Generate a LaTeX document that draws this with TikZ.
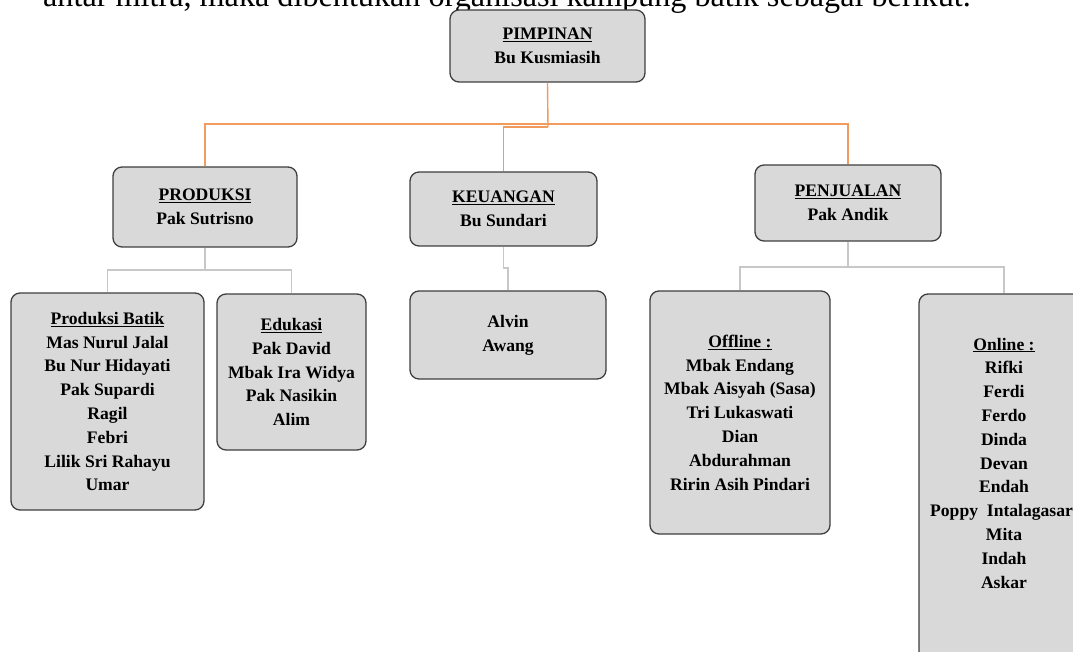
\documentclass[tikz,border=0pt]{standalone}
\usepackage{fontspec}
\setmainfont{Liberation Serif}
\definecolor{boxfill}{HTML}{D9D9D9}
\definecolor{boxline}{HTML}{3F3F3F}
\definecolor{orangeline}{HTML}{F29B5E}
\definecolor{grayline}{HTML}{C8C8C8}
\begin{document}
\begin{tikzpicture}[x=1pt,y=-1pt,
  box/.style={draw=boxline, fill=boxfill, line width=1.3pt, rounded corners=9pt,
    inner sep=0pt, align=center, font=\bfseries\fontsize{17.6}{23.8}\selectfont},
  txt/.style={inner sep=0pt, align=center, font=\bfseries\fontsize{17.6}{23.8}\selectfont},
  oline/.style={draw=orangeline, line width=1.4pt},
  gline/.style={draw=grayline, line width=1.6pt}]
\useasboundingbox (0,0) rectangle (1073,652);
\clip (0,0) rectangle (1073,652);

\node[anchor=base west, inner sep=0pt, font=\fontsize{32.2}{34}\selectfont] (intro) at (43,7)
  {antar mitra, maka dibentukan organisasi kampung batik sebagai berikut.};

% boxes
\node[box, minimum width=195pt, minimum height=72pt] (pim) at (547.5,46) {\underline{PIMPINAN}\\Bu Kusmiasih};
\node[box, minimum width=184pt, minimum height=80pt] (prod) at (205,207) {\underline{PRODUKSI}\\Pak Sutrisno};
\node[box, minimum width=187pt, minimum height=74pt] (keu) at (503.5,209) {\underline{KEUANGAN}\\Bu Sundari};
\node[box, minimum width=186pt, minimum height=76pt] (penj) at (848,203) {\underline{PENJUALAN}\\Pak Andik};

\node[box, minimum width=193pt, minimum height=217pt] (batik) at (107.5,401.5)
  {\underline{Produksi Batik}\\Mas Nurul Jalal\\Bu Nur Hidayati\\Pak Supardi\\Ragil\\Febri\\Lilik Sri Rahayu\\Umar};
\node[box, minimum width=149pt, minimum height=156pt] (edu) at (291.5,372)
  {\underline{Edukasi}\\Pak David\\Mbak Ira Widya\\Pak Nasikin\\Alim};
\node[box, minimum width=196pt, minimum height=88pt] (alvin) at (508,335) {Alvin\\Awang};
\node[box, minimum width=180pt, minimum height=243pt] (off) at (740,412.5)
  {\underline{Offline :}\\Mbak Endang\\Mbak Aisyah (Sasa)\\Tri Lukaswati\\Dian\\Abdurahman\\Ririn Asih Pindari};
\node[box, minimum width=170pt, minimum height=400pt] (onl) at (1004,494) {};
\node[txt] (onltxt) at (1004,463)
  {\underline{Online :}\\Rifki\\Ferdi\\Ferdo\\Dinda\\Devan\\Endah\\Poppy\ \ Intalagasari\\Mita\\Indah\\Askar};

% orange connectors
\coordinate (oj) at (548,124);
\coordinate (oj2) at (548,127);
\draw[oline] (pim.south) -- (oj2);
\draw[oline] (oj) -| (prod.north);
\draw[oline] (oj) -| (penj.north);
\draw[oline] (oj2) -| (keu.north);

% gray connectors
\coordinate (gp) at (205,270);
\draw[gline] (prod.south) -- (gp);
\draw[gline] (gp) -| (batik.north);
\draw[gline] (gp) -| (edu.north);
\coordinate (gk) at (503.5,268);
\draw[gline] (keu.south) -- (gk) -| (alvin.north);
\coordinate (gj) at (848,267);
\draw[gline] (penj.south) -- (gj);
\draw[gline] (gj) -| (off.north);
\draw[gline] (gj) -| (onl.north);
\end{tikzpicture}
\end{document}
